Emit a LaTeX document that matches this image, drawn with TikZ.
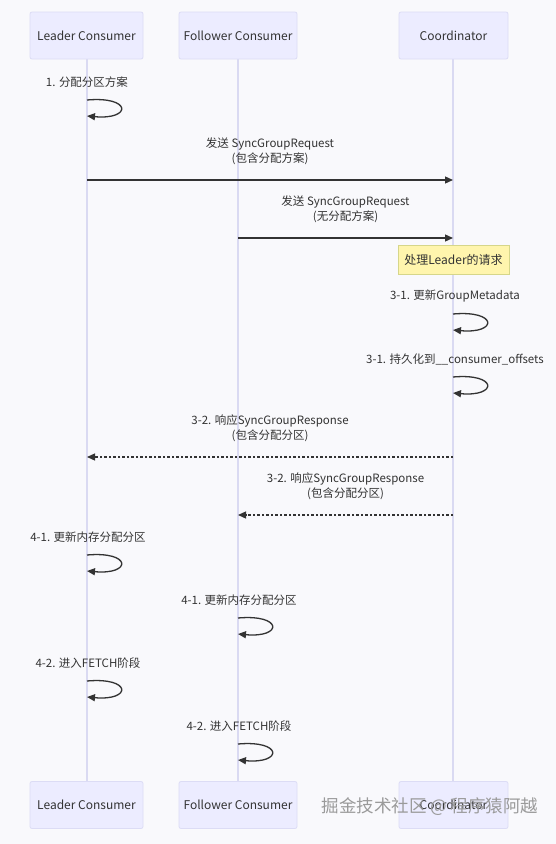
\documentclass[tikz,border=0pt]{standalone}
\usepackage{fontspec}
\setmainfont{Noto Sans CJK SC}
\usetikzlibrary{arrows.meta}
\definecolor{bg}{HTML}{F9F9FC}
\definecolor{actorfill}{HTML}{ECECFF}
\definecolor{actorline}{HTML}{DCDCF5}
\definecolor{lifeline}{HTML}{DADAF2}
\definecolor{txt}{HTML}{333333}
\definecolor{notefill}{HTML}{FFF5AD}
\definecolor{noteline}{HTML}{D6D68A}
\definecolor{wm}{HTML}{9A9A9A}
\tikzset{
  actor/.style={draw=actorline, line width=0.8pt, fill=actorfill, rounded corners=2pt,
    text=txt, font=\fontsize{12}{14}\selectfont, inner sep=0pt},
  life/.style={draw=lifeline, line width=1.5pt},
  lbl/.style={text=txt, font=\fontsize{11.5}{15}\selectfont, align=center, inner sep=0pt},
  msg/.style={draw=txt, line width=1.3pt, -{Triangle[length=8pt,width=7pt]}},
  reply/.style={msg, dash pattern=on 2.5pt off 2pt},
  notebox/.style={draw=noteline, line width=0.8pt, fill=notefill, text=txt,
    font=\fontsize{12}{14}\selectfont, minimum width=111pt, minimum height=29pt, inner sep=0pt},
  watermark/.style={text=wm, font=\fontsize{17.5}{20}\selectfont, inner sep=0pt}
}
\begin{document}
\begin{tikzpicture}[x=1pt,y=-1pt]
\useasboundingbox[fill=bg] (0,0) rectangle (556,844);

% lifelines first (behind boxes)
\coordinate (Ltop) at (87,59);
\coordinate (Lbot) at (87,781);
\coordinate (Ftop) at (238,59);
\coordinate (Fbot) at (238,781);
\coordinate (Ctop) at (453,59);
\coordinate (Cbot) at (453,781);
\draw[life] (Ltop) -- (Lbot);
\draw[life] (Ftop) -- (Fbot);
\draw[life] (Ctop) -- (Cbot);

% actor boxes
\node[actor, minimum width=113pt, minimum height=47pt] (lt) at (86.5,35.5) {Leader Consumer};
\node[actor, minimum width=118pt, minimum height=47pt] (ft) at (238,35.5) {Follower Consumer};
\node[actor, minimum width=109pt, minimum height=47pt] (ct) at (453.5,35.5) {Coordinator};
\node[actor, minimum width=113pt, minimum height=47pt] (lb) at (86.5,805) {Leader Consumer};
\node[actor, minimum width=118pt, minimum height=47pt] (fb) at (238,805) {Follower Consumer};
\node[actor, minimum width=109pt, minimum height=47pt] (cb) at (453.5,805) {Coordinator};

% 1. self loop on leader
\node[lbl] (t1) at (87,82) {1. 分配分区方案};
\coordinate (s1) at (87,100);
\coordinate (e1) at (87,116);
\draw[msg] (s1) .. controls +(45,-4) and +(45,4) .. (e1);

% request from leader
\node[lbl] (t2) at (270,151.5) {发送 SyncGroupRequest\\(包含分配方案)};
\coordinate (a2) at (87,180);
\coordinate (b2) at (453,180);
\draw[msg] (a2) -- (b2);

% request from follower
\node[lbl] (t3) at (345.5,209.5) {发送 SyncGroupRequest\\(无分配方案)};
\coordinate (a3) at (238,238);
\coordinate (b3) at (453,238);
\draw[msg] (a3) -- (b3);

% note
\node[notebox] (note) at (453.5,259.5) {处理Leader的请求};

% 3-1 loops on coordinator
\node[lbl] (t4) at (455,296) {3-1. 更新GroupMetadata};
\coordinate (s4) at (453,314);
\coordinate (e4) at (453,330);
\draw[msg] (s4) .. controls +(45,-4) and +(45,4) .. (e4);

\node[lbl] (t5) at (455,359) {3-1. 持久化到\_\_consumer\_offsets};
\coordinate (s5) at (453,377);
\coordinate (e5) at (453,393);
\draw[msg] (s5) .. controls +(45,-4) and +(45,4) .. (e5);

% responses
\node[lbl] (t6) at (270,428) {3-2. 响应SyncGroupResponse\\(包含分配分区)};
\coordinate (a6) at (453,457);
\coordinate (b6) at (87,457);
\draw[reply] (a6) -- (b6);

\node[lbl] (t7) at (345.5,486) {3-2. 响应SyncGroupResponse\\(包含分配分区)};
\coordinate (a7) at (453,515);
\coordinate (b7) at (238,515);
\draw[reply] (a7) -- (b7);

% 4-1
\node[lbl] (t8) at (88,537) {4-1. 更新内存分配分区};
\coordinate (s8) at (87,555);
\coordinate (e8) at (87,571);
\draw[msg] (s8) .. controls +(45,-4) and +(45,4) .. (e8);

\node[lbl] (t9) at (239,600) {4-1. 更新内存分配分区};
\coordinate (s9) at (238,618);
\coordinate (e9) at (238,634);
\draw[msg] (s9) .. controls +(45,-4) and +(45,4) .. (e9);

% 4-2
\node[lbl] (t10) at (88,663) {4-2. 进入FETCH阶段};
\coordinate (s10) at (87,681);
\coordinate (e10) at (87,697);
\draw[msg] (s10) .. controls +(45,-4) and +(45,4) .. (e10);

\node[lbl] (t11) at (239,726) {4-2. 进入FETCH阶段};
\coordinate (s11) at (238,744);
\coordinate (e11) at (238,760);
\draw[msg] (s11) .. controls +(45,-4) and +(45,4) .. (e11);

% watermark
\node[watermark] (wmk) at (430,807) {掘金技术社区 @ 程序猿阿越};
\end{tikzpicture}
\end{document}
